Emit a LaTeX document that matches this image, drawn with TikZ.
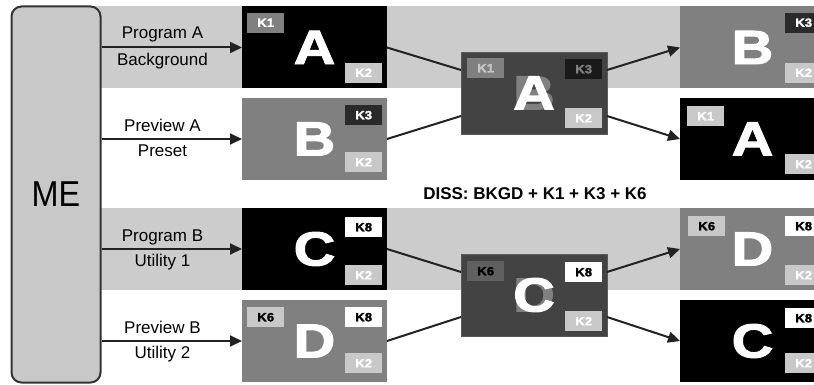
\documentclass[tikz,border=0pt]{standalone}
\usepackage{fontspec}
\setmainfont{Liberation Sans}
\newfontfamily\heavyfont{Liberation Sans Bold}[FakeBold=2]
\newfontfamily\kfont{Liberation Sans Bold}[FakeBold=1.5]
\usetikzlibrary{arrows.meta,calc}
\definecolor{bandgray}{HTML}{CCCCCC}
\definecolor{megray}{HTML}{C8C8C8}
\definecolor{meedge}{HTML}{333333}
\definecolor{midgray}{HTML}{808080}
\definecolor{mixgray}{HTML}{434343}
\definecolor{mixedge}{HTML}{5A5A5A}
\definecolor{klight}{HTML}{C8C8C8}
\definecolor{kdark}{HTML}{2A2A2A}
\definecolor{kdarker}{HTML}{1A1A1A}
\definecolor{kmid}{HTML}{606060}
\definecolor{linec}{HTML}{222222}
\newcommand\klab[6]{\node[kl, fill=#4, text=#5] (#1) at ($(#2.north west)+#3$) {\scalebox{1.1}[1]{#6}};}
\newcommand\wideletter[1]{\scalebox{1.2}[1]{#1}}
\begin{document}
\begin{tikzpicture}[x=1pt,y=-1pt,
  box/.style={minimum width=145pt, minimum height=82pt, inner sep=0pt, outer sep=0pt},
  boxblack/.style={box, fill=black},
  boxgray/.style={box, fill=midgray},
  boxmix/.style={box, minimum width=146pt, fill=mixgray, draw=mixedge, line width=0.8pt},
  kl/.style={minimum width=37pt, minimum height=20pt, inner sep=0pt, anchor=north west,
    font=\kfont\fontsize{12}{12}\selectfont},
  big/.style={text=white, inner sep=0pt, font=\heavyfont\fontsize{48}{48}\selectfont},
  lbl/.style={anchor=base, inner sep=0pt, font=\fontsize{17}{17}\selectfont},
  arr/.style={draw=linec, line width=2pt, -{Triangle[length=12pt,width=11pt]}},
  conn/.style={draw=linec, line width=2pt}]
\useasboundingbox (0,0) rectangle (814,385);
\clip (0,0) rectangle (814,385);
% bands
\fill[bandgray] (56,6.5) rectangle (814,88.5);
\fill[bandgray] (56,208) rectangle (814,290);
% ME
\node[draw=meedge, fill=megray, line width=2pt, rounded corners=10pt,
  minimum width=89pt, minimum height=376pt, inner sep=0pt] (me) at (56,194.5) {};
\node[anchor=base, inner sep=0pt, font=\fontsize{36}{36}\selectfont] (metext) at (56,206) {\scalebox{0.9}[1]{ME}};
% left boxes
\node[boxblack] (pA) at (314.5,47.5) {};
\node[boxgray]  (pB) at (314.5,139) {};
\node[boxblack] (pC) at (314.5,249) {};
\node[boxgray]  (pD) at (314.5,341) {};
% mixed boxes
\node[boxmix] (mA) at (534,93) {};
\node[boxmix] (mC) at (534,295) {};
% right boxes
\node[boxgray]  (rB) at (752.5,47.5) {};
\node[boxblack] (rA) at (752.5,139) {};
\node[boxgray]  (rD) at (752.5,249) {};
\node[boxblack] (rC) at (752.5,341) {};
% big letters
\node[big] (lA) at (pA) {\wideletter{A}};
\node[big] (lB) at (pB) {\wideletter{B}};
\node[big] (lC) at (pC) {\wideletter{C}};
\node[big] (lD) at (pD) {\wideletter{D}};
\node[big, text=midgray] (lmB) at (mA) {\wideletter{B}};
\node[big] (lmA) at (mA) {\wideletter{A}};
\node[big, text=midgray] (lmD) at (mC) {\wideletter{D}};
\node[big] (lmC) at (mC) {\wideletter{C}};
\node[big] (lrB) at (rB) {\wideletter{B}};
\node[big] (lrA) at (rA) {\wideletter{A}};
\node[big] (lrD) at (rD) {\wideletter{D}};
\node[big] (lrC) at (rC) {\wideletter{C}};
% key labels
\klab{pAk1}{pA}{(5,6)}{midgray}{white}{K1}
\klab{pAk2}{pA}{(103,56)}{klight}{white}{K2}
\klab{pBk3}{pB}{(103,7)}{kdark}{white}{K3}
\klab{pBk2}{pB}{(103,54)}{klight}{white}{K2}
\klab{mAk1}{mA}{(6,6)}{midgray}{klight}{K1}
\klab{mAk3}{mA}{(104,7)}{kdarker}{midgray}{K3}
\klab{mAk2}{mA}{(104,56)}{klight}{white}{K2}
\klab{rBk3}{rB}{(105,6)}{kdark}{white}{K3}
\klab{rBk2}{rB}{(105,56)}{klight}{white}{K2}
\klab{rAk1}{rA}{(7,8)}{klight}{white}{K1}
\klab{rAk2}{rA}{(105,56)}{klight}{white}{K2}
\klab{pCk8}{pC}{(103,9)}{white}{black}{K8}
\klab{pCk2}{pC}{(103,57)}{klight}{white}{K2}
\klab{pDk6}{pD}{(5,7)}{klight}{black}{K6}
\klab{pDk8}{pD}{(103,7)}{white}{black}{K8}
\klab{pDk2}{pD}{(103,53)}{klight}{white}{K2}
\klab{mCk6}{mC}{(6,7)}{kmid}{black}{K6}
\klab{mCk8}{mC}{(104,8)}{white}{black}{K8}
\klab{mCk2}{mC}{(104,57)}{klight}{white}{K2}
\klab{rDk6}{rD}{(8,8)}{klight}{black}{K6}
\klab{rDk8}{rD}{(105,8)}{white}{black}{K8}
\klab{rDk2}{rD}{(105,57)}{klight}{white}{K2}
\klab{rCk8}{rC}{(105,8)}{white}{black}{K8}
\klab{rCk2}{rC}{(105,53)}{klight}{white}{K2}
% input labels
\node[lbl] (t1) at (162.5,39) {Program A};
\node[lbl] (t2) at (162.5,66) {Background};
\node[lbl] (t3) at (162.5,132) {Preview A};
\node[lbl] (t4) at (162.5,157) {Preset};
\node[lbl] (t5) at (162.5,241) {Program B};
\node[lbl] (t6) at (162.5,266) {Utility 1};
\node[lbl] (t7) at (162.5,333) {Preview B};
\node[lbl] (t8) at (162.5,358) {Utility 2};
\node[lbl, font=\bfseries\fontsize{17}{17}\selectfont] (diss) at (535,200) {DISS: BKGD + K1 + K3 + K6};
% input arrows
\draw[arr] (pA.west -| me.east) -- (pA.west);
\draw[arr] (pB.west -| me.east) -- (pB.west);
\draw[arr] (pC.west -| me.east) -- (pC.west);
\draw[arr] (pD.west -| me.east) -- (pD.west);
% connectors
\coordinate (mAi1) at ($(mA.north west)+(0,18)$);
\coordinate (mAi2) at ($(mA.south west)+(0,-18)$);
\coordinate (mAo1) at ($(mA.north east)+(0,18)$);
\coordinate (mAo2) at ($(mA.south east)+(0,-18)$);
\coordinate (mCi1) at ($(mC.north west)+(0,18)$);
\coordinate (mCi2) at ($(mC.south west)+(0,-19)$);
\coordinate (mCo1) at ($(mC.north east)+(0,18)$);
\coordinate (mCo2) at ($(mC.south east)+(0,-19)$);
\draw[conn] (pA.east) -- (mAi1);
\draw[conn] (pB.east) -- (mAi2);
\draw[arr] (mAo1) -- (rB.west);
\draw[arr] (mAo2) -- (rA.west);
\draw[conn] (pC.east) -- (mCi1);
\draw[conn] (pD.east) -- (mCi2);
\draw[arr] (mCo1) -- (rD.west);
\draw[arr] (mCo2) -- (rC.west);
\end{tikzpicture}
\end{document}
